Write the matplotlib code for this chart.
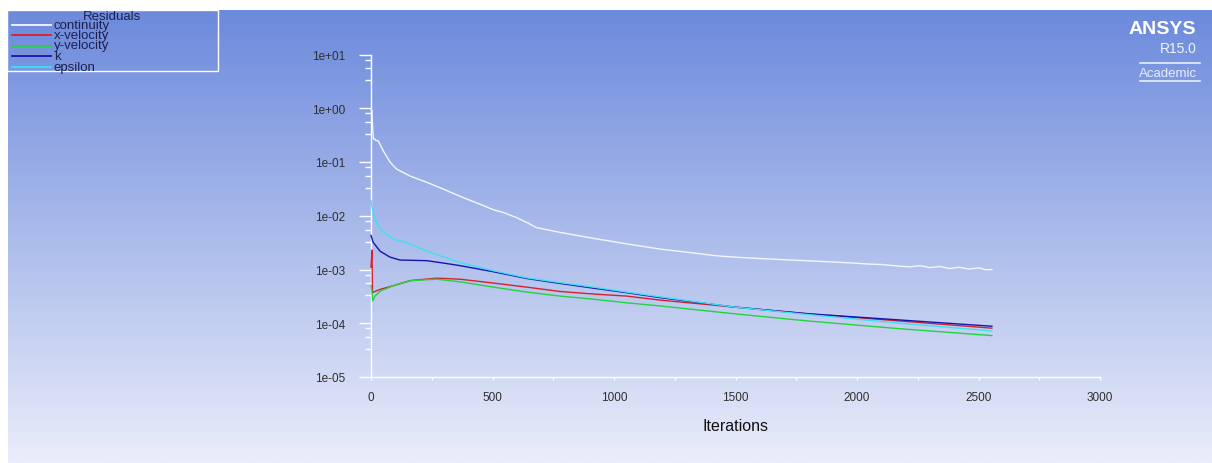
import numpy as np
import matplotlib.pyplot as plt
from matplotlib.lines import Line2D
from matplotlib.ticker import FixedLocator, NullFormatter

plt.rcParams['font.family'] = ['Liberation Sans', 'DejaVu Sans']

# residual histories (iteration, residual)
cont_it = [0, 4, 6, 8, 10, 14, 20, 29, 51, 78, 105, 160, 229, 300, 366, 440, 503, 544, 600,
           641, 682, 778, 915, 1052, 1189, 1300, 1420, 1495, 1600, 1700, 1800, 1900, 1972,
           2050, 2100, 2177, 2220, 2260, 2300, 2340, 2380, 2420, 2460, 2500, 2530, 2555]
cont_val = [0.97, 0.9, 0.5, 0.35, 0.27, 0.27, 0.25, 0.25, 0.16, 0.1, 0.074, 0.055, 0.042, 0.031,
            0.023, 0.017, 0.013, 0.0115, 0.0092, 0.0075, 0.006, 0.0049, 0.0038, 0.003, 0.0024,
            0.0021, 0.0018, 0.0017, 0.0016, 0.00152, 0.00145, 0.00138, 0.00133,
            0.00126, 0.00124, 0.00115, 0.00112, 0.00118, 0.00108, 0.00114, 0.00104,
            0.0011, 0.00102, 0.00107, 0.00099, 0.001]

xvel_it = [0, 4, 5, 6, 10, 40, 92, 160, 270, 366, 503, 641, 778, 915, 1052, 1189, 1495, 1800, 2177, 2555]
xvel_val = [0.0011, 0.0023, 0.0009, 0.00037, 0.00038, 0.00043, 0.0005, 0.00062, 0.00069, 0.00066,
            0.00056, 0.00047, 0.00039, 0.00035, 0.00032, 0.00027, 0.0002, 0.00015, 0.00011, 8.1e-5]

yvel_it = [0, 4, 7, 16, 40, 92, 160, 270, 366, 503, 641, 778, 915, 1052, 1189, 1495, 1800, 2177, 2555]
yvel_val = [0.0005, 0.0004, 0.00026, 0.00032, 0.0004, 0.0005, 0.00062, 0.00066, 0.00059, 0.00047,
            0.00038, 0.00032, 0.00028, 0.00024, 0.00021, 0.00015, 0.00011, 7.9e-5, 5.9e-5]

k_it = [0, 9, 37, 78, 119, 229, 297, 366, 503, 641, 778, 915, 1052, 1189, 1495, 1800, 2177, 2555]
k_val = [0.0043, 0.0032, 0.0022, 0.0017, 0.0015, 0.00146, 0.00132, 0.00118, 0.00091, 0.00068,
         0.00055, 0.00045, 0.00037, 0.0003, 0.0002, 0.00015, 0.000115, 8.8e-5]

eps_it = [0, 3, 16, 37, 92, 160, 229, 366, 503, 641, 778, 915, 1052, 1189, 1495, 1800, 2177, 2555]
eps_val = [0.019, 0.0155, 0.0087, 0.0056, 0.0037, 0.003, 0.0022, 0.00135, 0.00095, 0.0007,
           0.00057, 0.00047, 0.00038, 0.00031, 0.0002, 0.000145, 0.0001, 7.2e-5]

names = ['continuity', 'x-velocity', 'y-velocity', 'k', 'epsilon']
colors = ['#f4f6ff', '#d8202c', '#22d43c', '#1414b4', '#3ae2f2']
series = [(cont_it, cont_val), (xvel_it, xvel_val), (yvel_it, yvel_val), (k_it, k_val), (eps_it, eps_val)]

W, H = 1212, 464
fig = plt.figure(figsize=(W / 100, H / 100), dpi=100, facecolor='white')

# gradient background (ANSYS style)
bg = fig.add_axes([8 / W, 0, 1 - 8 / W, 1 - 11 / H], zorder=-10)
top = np.array([108, 138, 220]) / 255
bot = np.array([234, 237, 250]) / 255
t = np.linspace(0, 1, 256)[:, None]
grad = top[None, :] * (1 - t) + bot[None, :] * t
bg.imshow(grad[:, None, :], aspect='auto', extent=[0, 1, 0, 1])
bg.axis('off')

ax = fig.add_axes([371 / W, 1 - 378 / H, 729 / W, (378 - 55.5) / H])
ax.patch.set_alpha(0)
for (xs, ys), c in zip(series, colors):
    ax.plot(xs, ys, color=c, lw=1.0, zorder=3, clip_on=False)

ax.set_yscale('log')
ax.set_ylim(1e-5, 10)
ax.set_xlim(0, 3000)
for s in ['top', 'right']:
    ax.spines[s].set_visible(False)
for s in ['left', 'bottom']:
    ax.spines[s].set_color('white')
    ax.spines[s].set_linewidth(1.0)

ax.set_xticks([0, 500, 1000, 1500, 2000, 2500, 3000])
ax.xaxis.set_minor_locator(FixedLocator([250, 750, 1250, 1750, 2250, 2750]))
ax.set_yticks([1e-5, 1e-4, 1e-3, 1e-2, 1e-1, 1, 10])
ax.set_yticklabels(['1e-05', '1e-04', '1e-03', '1e-02', '1e-01', '1e+00', '1e+01'])
minors = [m * 10.0 ** e for e in range(-5, 1) for m in (3.3, 5.5, 8)]
ax.yaxis.set_minor_locator(FixedLocator(minors))
ax.yaxis.set_minor_formatter(NullFormatter())
ax.tick_params(axis='y', which='major', direction='out', length=8.6, width=1, color='white',
               pad=10, labelsize=8.5, labelcolor='#303030')
ax.tick_params(axis='y', which='minor', direction='out', length=4.3, width=1, color='white')
ax.tick_params(axis='x', which='both', direction='out', length=2, width=1, color='white',
               pad=8, labelsize=8.5, labelcolor='#303030')
ax.set_xlabel('Iterations', fontsize=11.5, color='#111111', labelpad=11)

# legend block drawn top left
navy = '#1c2050'
fig.add_artist(plt.Rectangle((7 / W, 1 - 72 / H), 211 / W, 61 / H, transform=fig.transFigure,
                             fill=False, edgecolor='white', lw=1.0))
fig.text(112 / W, 1 - 17 / H, 'Residuals', ha='center', va='center', fontsize=9.5, color=navy)
for i, (n, c) in enumerate(zip(names, colors)):
    yy = 1 - (25.5 + i * 10.5) / H
    fig.add_artist(Line2D([12 / W, 51 / W], [yy, yy], transform=fig.transFigure, color=c, lw=1.3))
    fig.text(54 / W, yy, n, ha='left', va='center', fontsize=9.5, color=navy)

# ANSYS badge
fig.text(1196 / W, 1 - 29.5 / H, 'ANSYS', ha='right', va='center', fontsize=14,
         fontweight='bold', color='white')
fig.text(1197 / W, 1 - 49 / H, 'R15.0', ha='right', va='center', fontsize=10, color='#f0f4ff')
fig.add_artist(Line2D([1140 / W, 1200 / W], [1 - 63.5 / H] * 2, transform=fig.transFigure,
                      color='#e8eeff', lw=1.2))
fig.text(1168 / W, 1 - 74 / H, 'Academic', ha='center', va='center', fontsize=9.5, color='#e8eeff')
fig.add_artist(Line2D([1140 / W, 1200 / W], [1 - 82 / H] * 2, transform=fig.transFigure,
                      color='#e8eeff', lw=1.2))

fig.savefig('out.png', dpi=100, facecolor='white')
